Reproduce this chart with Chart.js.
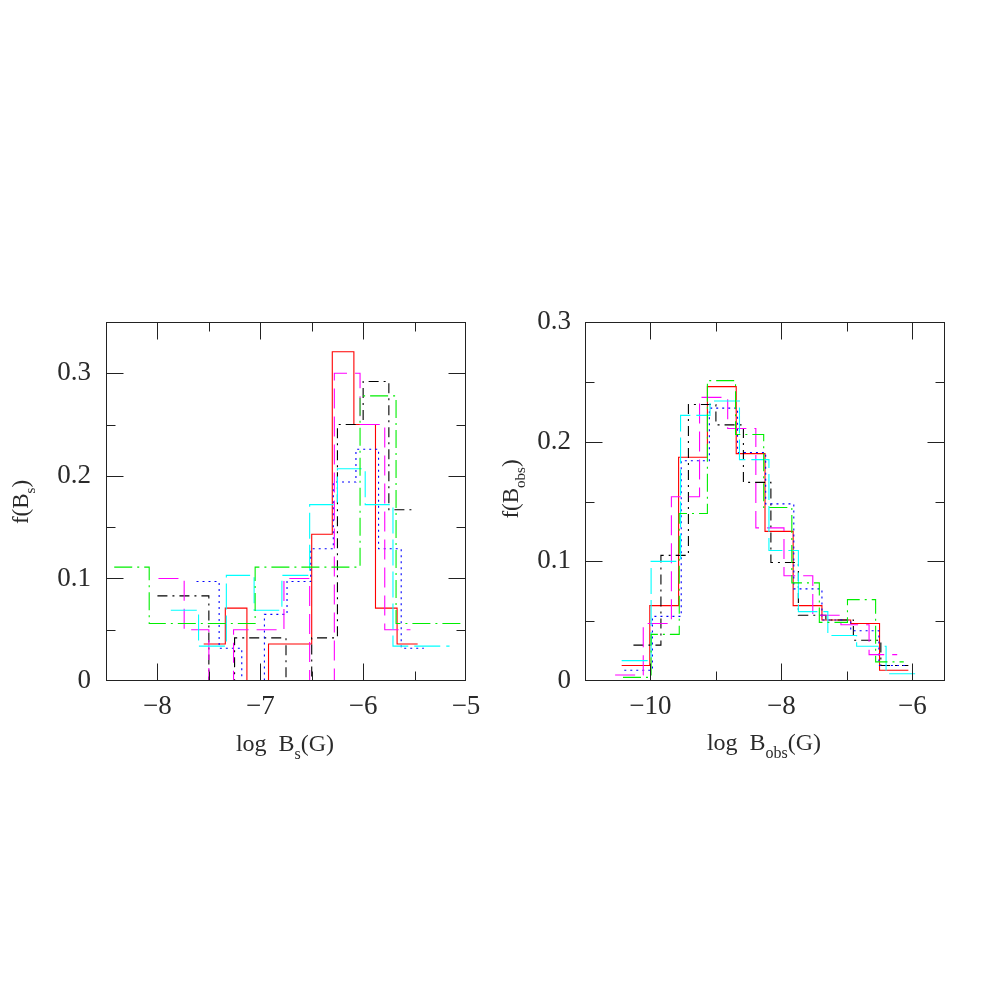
<!DOCTYPE html>
<html><head><meta charset="utf-8">
<script src="https://cdn.jsdelivr.net/npm/chart.js@4.4.0/dist/chart.umd.min.js"></script>
<style>
html,body{margin:0;padding:0;background:#fff;width:981px;height:981px;overflow:hidden;}
canvas{position:absolute;}
#c1{left:0;top:300px;}
#c2{left:490px;top:300px;}
</style></head><body>
<canvas id="c1" width="490" height="480"></canvas>
<canvas id="c2" width="480" height="480"></canvas>
<script>
// ---------- Left panel: log B_s (G) ----------
const leftRedEdges     = [-7.55, -7.34, -7.13, -6.92, -6.71, -6.50, -6.30, -6.09, -5.88, -5.67, -5.47];
const leftRedValues    = [0.036, 0.071, 0, 0.036, 0.036, 0.143, 0.321, 0.250, 0.071, 0.036];
const leftGreenEdges   = [-8.42, -8.08, -7.74, -7.39, -7.05, -6.71, -6.37, -6.03, -5.68, -5.34, -5.00];
const leftGreenValues  = [0.111, 0.056, 0.056, 0.056, 0.111, 0.111, 0.111, 0.278, 0.056, 0.056];
const leftMagentaEdges = [-7.99, -7.74, -7.50, -7.26, -7.01, -6.77, -6.52, -6.28, -6.03, -5.79, -5.54];
const leftMagentaValues= [0.100, 0.050, 0, 0.050, 0.050, 0.100, 0, 0.300, 0.250, 0.050];
const leftBlueEdges    = [-7.62, -7.40, -7.18, -6.96, -6.74, -6.51, -6.29, -6.07, -5.85, -5.63, -5.41];
const leftBlueValues   = [0.097, 0.032, 0, 0.065, 0.097, 0.129, 0.194, 0.226, 0.129, 0.032];
const leftCyanEdges    = [-7.87, -7.60, -7.33, -7.06, -6.79, -6.52, -6.25, -5.98, -5.71, -5.44, -5.16];
const leftCyanValues   = [0.069, 0.034, 0.103, 0.069, 0.103, 0.172, 0.207, 0.172, 0.034, 0.034];
const leftBlackEdges   = [-8.00, -7.75, -7.50, -7.25, -7.00, -6.75, -6.50, -6.25, -6.00, -5.75, -5.50];
const leftBlackValues  = [0.083, 0.083, 0, 0.042, 0.042, 0, 0.042, 0.250, 0.292, 0.167];

// ---------- Right panel: log B_obs (G) ----------
const rightRedEdges     = [-10.44, -10.01, -9.57, -9.13, -8.69, -8.25, -7.82, -7.38, -6.94, -6.50, -6.06];
const rightRedValues    = [0.013, 0.063, 0.187, 0.246, 0.190, 0.125, 0.063, 0.051, 0.048, 0.009];
const rightGreenEdges   = [-10.42, -9.99, -9.56, -9.13, -8.70, -8.27, -7.84, -7.42, -6.99, -6.56, -6.13];
const rightGreenValues  = [0.003, 0.039, 0.140, 0.251, 0.206, 0.145, 0.082, 0.049, 0.068, 0.016];
const rightMagentaEdges = [-10.54, -10.11, -9.68, -9.25, -8.82, -8.39, -7.96, -7.52, -7.09, -6.66, -6.23];
const rightMagentaValues= [0.005, 0.048, 0.154, 0.237, 0.211, 0.128, 0.088, 0.055, 0.047, 0.022];
const rightBlueEdges    = [-10.40, -9.97, -9.53, -9.10, -8.67, -8.24, -7.81, -7.38, -6.94, -6.51, -6.08];
const rightBlueValues   = [0.009, 0.054, 0.184, 0.228, 0.191, 0.148, 0.077, 0.051, 0.042, 0.013];
const rightCyanEdges    = [-10.44, -9.99, -9.54, -9.09, -8.64, -8.19, -7.74, -7.29, -6.85, -6.40, -5.95];
const rightCyanValues   = [0.017, 0.100, 0.222, 0.234, 0.185, 0.109, 0.058, 0.038, 0.029, 0.006];
const rightBlackEdges   = [-10.26, -9.84, -9.42, -9.00, -8.58, -8.16, -7.74, -7.32, -6.90, -6.48, -6.06];
const rightBlackValues  = [0.030, 0.105, 0.231, 0.214, 0.166, 0.099, 0.055, 0.051, 0.034, 0.013];

// axis ranges and labelled ticks
const leftXRange = [-8.5, -5];   const leftXLabels = [-8, -7, -6, -5];
const leftYRange = [0, 0.35];    const leftYLabels = [0, 0.1, 0.2, 0.3];
const rightXRange = [-11, -5.5]; const rightXLabels = [-10, -8, -6];
const rightYRange = [0, 0.3];    const rightYLabels = [0, 0.1, 0.2, 0.3];

// ---------- styles ----------
const STY = {
  red:     {color:'#ff0000', dash:[]},
  green:   {color:'#00ee00', dash:[18,5,2,5]},
  magenta: {color:'#ff00ff', dash:[20,8]},
  blue:    {color:'#0000ff', dash:[2,4]},
  cyan:    {color:'#00ffff', dash:[26,6]},
  black:   {color:'#000000', dash:[10,5,2,5]}
};
const FONT = "'Liberation Serif', 'DejaVu Serif', serif";
const TXT = '#2a2a2a';

function stepPoints(edges, values){
  const pts = values.map((v,i)=>({x:edges[i], y:v}));
  pts.push({x:edges[edges.length-1], y:values[values.length-1]});
  return pts;
}
function ds(edges, values, st){
  return {data:stepPoints(edges, values), borderColor:STY[st].color, borderDash:STY[st].dash,
          borderWidth:1.1, pointRadius:0, stepped:'before', fill:false, tension:0};
}
function fmt(v){
  if (Math.abs(v) < 1e-9) return '0';
  const s = (Math.abs(v) < 1 ? v.toFixed(1) : String(Math.round(v)));
  return s.replace('-', '\u2212');
}
function labelCb(list){
  return function(v){ return list.some(l => Math.abs(l - v) < 1e-6) ? fmt(v) : ''; };
}

function drawParts(ctx, parts, cx, by){
  let w = 0;
  parts.forEach(p => { ctx.font = p.size + 'px ' + FONT; w += ctx.measureText(p.t).width; });
  let x = cx - w/2;
  parts.forEach(p => {
    ctx.font = p.size + 'px ' + FONT;
    ctx.fillText(p.t, x, by + (p.dy||0));
    x += ctx.measureText(p.t).width;
  });
}

function zeroPad(s){ s.paddingTop = 0; s.paddingBottom = 0; s.paddingLeft = 0; s.paddingRight = 0; }

const framePlugin = {
  id:'frame',
  afterDatasetsDraw(chart){
    const {ctx, chartArea:a, scales} = chart;
    const o = chart.options.plugins.frame;
    ctx.save();
    ctx.setLineDash([]);
    ctx.strokeStyle = '#222'; ctx.lineWidth = 1;
    const L = Math.round(a.left)+0.5, R = Math.round(a.right)-0.5, T = Math.round(a.top)+0.5, B = Math.round(a.bottom)-0.5;
    ctx.strokeRect(L, T, R-L, B-T);
    ctx.beginPath();
    scales.x.ticks.forEach(t => {
      const px = Math.round(scales.x.getPixelForValue(t.value)) + 0.5;
      if (px <= L+1 || px >= R-1) return;
      const len = t.label ? 17 : 9;
      ctx.moveTo(px, B); ctx.lineTo(px, B-len);
      ctx.moveTo(px, T); ctx.lineTo(px, T+len);
    });
    scales.y.ticks.forEach(t => {
      const py = Math.round(scales.y.getPixelForValue(t.value)) + 0.5;
      if (py <= T+1 || py >= B-1) return;
      const len = t.label ? 17 : 9;
      ctx.moveTo(L, py); ctx.lineTo(L+len, py);
      ctx.moveTo(R, py); ctx.lineTo(R-len, py);
    });
    ctx.stroke();
    // axis titles
    ctx.fillStyle = TXT; ctx.textBaseline = 'alphabetic'; ctx.textAlign = 'left';
    drawParts(ctx, o.xTitle, o.xTitlePos[0], o.xTitlePos[1]);
    ctx.translate(o.yTitlePos[0], o.yTitlePos[1]);
    ctx.rotate(-Math.PI/2);
    drawParts(ctx, o.yTitle, 0, 0);
    ctx.restore();
  }
};

function makeChart(id, c){
  return new Chart(document.getElementById(id), {
    type:'line',
    data:{datasets:c.datasets},
    options:{
      responsive:false, animation:false, devicePixelRatio:1,
      layout:{padding:{top:22, right:c.padRight, left:0, bottom:0}},
      plugins:{legend:{display:false}, tooltip:{enabled:false},
        frame:{xTitle:c.xTitle, xTitlePos:c.xTitlePos, yTitle:c.yTitle, yTitlePos:c.yTitlePos}},
      scales:{
        x:{type:'linear', min:c.xRange[0], max:c.xRange[1],
           grid:{display:false, drawTicks:false}, border:{display:false},
           ticks:{stepSize:c.xStep, includeBounds:false, autoSkip:false, maxRotation:0, minRotation:0,
                  padding:10, color:TXT, font:{family:FONT, size:27}, callback:labelCb(c.xLabels)},
           afterFit(s){ s.height = 99; zeroPad(s); }},
        y:{type:'linear', min:c.yRange[0], max:c.yRange[1],
           grid:{display:false, drawTicks:false}, border:{display:false},
           ticks:{stepSize:0.05, includeBounds:false, autoSkip:false, padding:c.yPad, color:TXT,
                  font:{family:FONT, size:27}, callback:labelCb(c.yLabels)},
           afterFit(s){ s.width = c.yWidth; zeroPad(s); }}
      }
    },
    plugins:[framePlugin]
  });
}

makeChart('c1', {
  datasets:[
    ds(leftGreenEdges, leftGreenValues, 'green'),
    ds(leftCyanEdges, leftCyanValues, 'cyan'),
    ds(leftMagentaEdges, leftMagentaValues, 'magenta'),
    ds(leftBlueEdges, leftBlueValues, 'blue'),
    ds(leftBlackEdges, leftBlackValues, 'black'),
    ds(leftRedEdges, leftRedValues, 'red')
  ],
  xRange:leftXRange, yRange:leftYRange, xStep:0.5, xLabels:leftXLabels, yLabels:leftYLabels,
  yWidth:106, yPad:15, padRight:24,
  xTitle:[{t:'log  B', size:24},{t:'s', size:16, dy:8},{t:'(G)', size:24}], xTitlePos:[285, 451],
  yTitle:[{t:'f(B', size:23},{t:'s', size:15, dy:7},{t:')', size:23}], yTitlePos:[28, 202]
});

makeChart('c2', {
  datasets:[
    ds(rightGreenEdges, rightGreenValues, 'green'),
    ds(rightCyanEdges, rightCyanValues, 'cyan'),
    ds(rightMagentaEdges, rightMagentaValues, 'magenta'),
    ds(rightBlueEdges, rightBlueValues, 'blue'),
    ds(rightBlackEdges, rightBlackValues, 'black'),
    ds(rightRedEdges, rightRedValues, 'red')
  ],
  xRange:rightXRange, yRange:rightYRange, xStep:1, xLabels:rightXLabels, yLabels:rightYLabels,
  yWidth:95, yPad:14, padRight:25,
  xTitle:[{t:'log  B', size:24},{t:'obs', size:16, dy:8},{t:'(G)', size:24}], xTitlePos:[274, 450],
  yTitle:[{t:'f(B', size:23},{t:'obs', size:15, dy:7},{t:')', size:23}], yTitlePos:[28, 189]
});
</script>
</body></html>
